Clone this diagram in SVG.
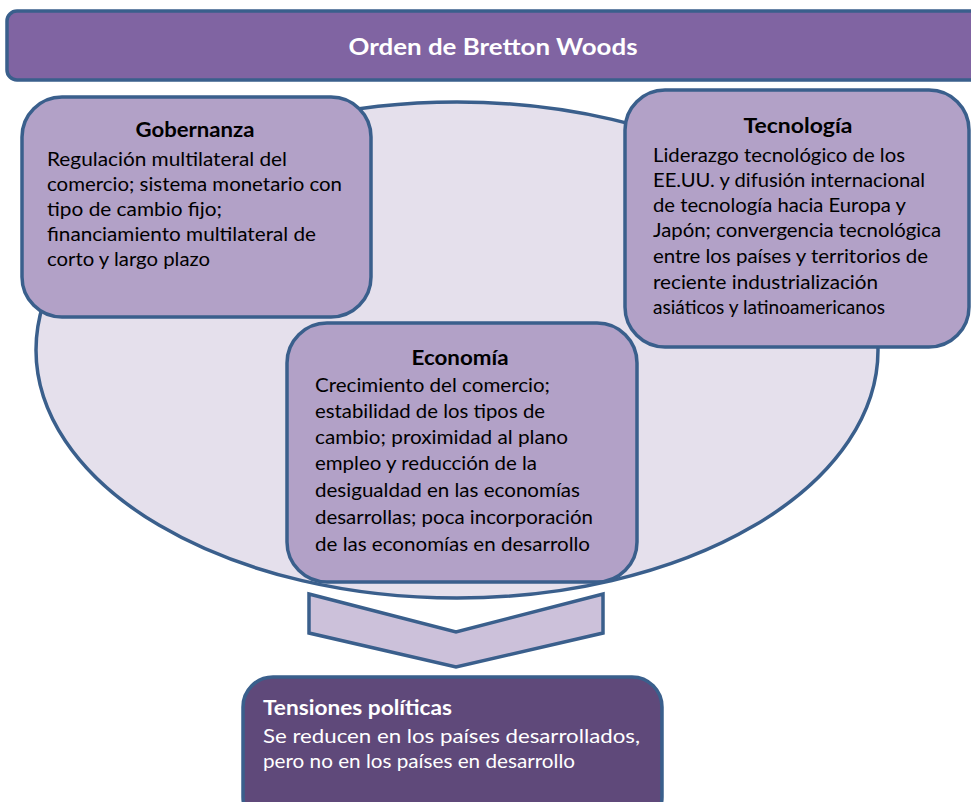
<svg xmlns="http://www.w3.org/2000/svg" width="971" height="802" viewBox="0 0 971 802">
<style>
.st{stroke:#3A5F8C;stroke-width:3.5}
.box{fill:#B2A1C7}
.t{font-family:Lato,"Liberation Sans",sans-serif;fill:#000}
.b{font-weight:bold}
.w{fill:#fff}
</style>
<rect width="971" height="802" fill="#fff"/>
<g id="title">
<rect class="st" x="7" y="11" width="980" height="69" rx="10" fill="#8064A2"/>
<text class="t w b" x="493" y="55" font-size="23" text-anchor="middle" textLength="289" lengthAdjust="spacingAndGlyphs">Orden de Bretton Woods</text>
</g>
<g id="ambito">
<ellipse class="st" cx="457" cy="350" rx="421" ry="248" fill="#E5E0EC"/>
</g>
<g id="gobernanza">
<rect class="st box" x="22" y="97" width="349" height="220" rx="40"/>
<text class="t b" x="195" y="137" font-size="20" text-anchor="middle" textLength="119" lengthAdjust="spacingAndGlyphs">Gobernanza</text>
<g class="t" font-size="19.5">
<text x="47" y="166" textLength="240" lengthAdjust="spacingAndGlyphs">Regulación multilateral del</text>
<text x="47" y="191" textLength="295" lengthAdjust="spacingAndGlyphs">comercio; sistema monetario con</text>
<text x="47" y="216" textLength="175" lengthAdjust="spacingAndGlyphs">tipo de cambio fijo;</text>
<text x="47" y="241" textLength="269" lengthAdjust="spacingAndGlyphs">financiamiento multilateral de</text>
<text x="47" y="266" textLength="163" lengthAdjust="spacingAndGlyphs">corto y largo plazo</text>
</g>
</g>
<g id="tecnologia">
<rect class="st box" x="625" y="90" width="344" height="257" rx="40"/>
<text class="t b" x="798" y="133" font-size="20" text-anchor="middle" textLength="109" lengthAdjust="spacingAndGlyphs">Tecnología</text>
<g class="t" font-size="19.5">
<text x="653" y="162" textLength="252" lengthAdjust="spacingAndGlyphs">Liderazgo tecnológico de los</text>
<text x="653" y="187" textLength="272" lengthAdjust="spacingAndGlyphs">EE.UU.  y difusión internacional</text>
<text x="653" y="212" textLength="253" lengthAdjust="spacingAndGlyphs">de tecnología hacia Europa y</text>
<text x="653" y="237" textLength="288" lengthAdjust="spacingAndGlyphs">Japón; convergencia tecnológica</text>
<text x="653" y="263" textLength="275" lengthAdjust="spacingAndGlyphs">entre los países y territorios de</text>
<text x="653" y="289" textLength="225" lengthAdjust="spacingAndGlyphs">reciente industrialización</text>
<text x="653" y="314" textLength="232" lengthAdjust="spacingAndGlyphs">asiáticos y latinoamericanos</text>
</g>
</g>
<g id="economia">
<rect class="st box" x="287" y="323" width="350" height="259" rx="40"/>
<text class="t b" x="460" y="365" font-size="20" text-anchor="middle" textLength="97" lengthAdjust="spacingAndGlyphs">Economía</text>
<g class="t" font-size="20">
<text x="315" y="392" textLength="235" lengthAdjust="spacingAndGlyphs">Crecimiento del comercio;</text>
<text x="315" y="418" textLength="230" lengthAdjust="spacingAndGlyphs">estabilidad de los tipos de</text>
<text x="315" y="444" textLength="253" lengthAdjust="spacingAndGlyphs">cambio; proximidad al plano</text>
<text x="315" y="470" textLength="222" lengthAdjust="spacingAndGlyphs">empleo y reducción de la</text>
<text x="315" y="497" textLength="265" lengthAdjust="spacingAndGlyphs">desigualdad en las economías</text>
<text x="315" y="524" textLength="278" lengthAdjust="spacingAndGlyphs">desarrollas; poca incorporación</text>
<text x="315" y="551" textLength="275" lengthAdjust="spacingAndGlyphs">de las economías en desarrollo</text>
</g>
</g>
<g id="connectors">
<polygon class="st" points="309,594 456,632 603,594 603,633 456,667 309,633" fill="#CCC1DA" stroke-linejoin="miter"/>
</g>
<g id="tensiones">
<rect class="st" x="243" y="677" width="419" height="150" rx="30" fill="#5F497A"/>
<text class="t w b" x="263" y="715" font-size="20" textLength="189" lengthAdjust="spacingAndGlyphs">Tensiones políticas</text>
<g class="t w" font-size="20">
<text x="263" y="743" textLength="377" lengthAdjust="spacingAndGlyphs">Se reducen en los países desarrollados,</text>
<text x="263" y="768" textLength="312" lengthAdjust="spacingAndGlyphs">pero no en los países en desarrollo</text>
</g>
</g>
</svg>
